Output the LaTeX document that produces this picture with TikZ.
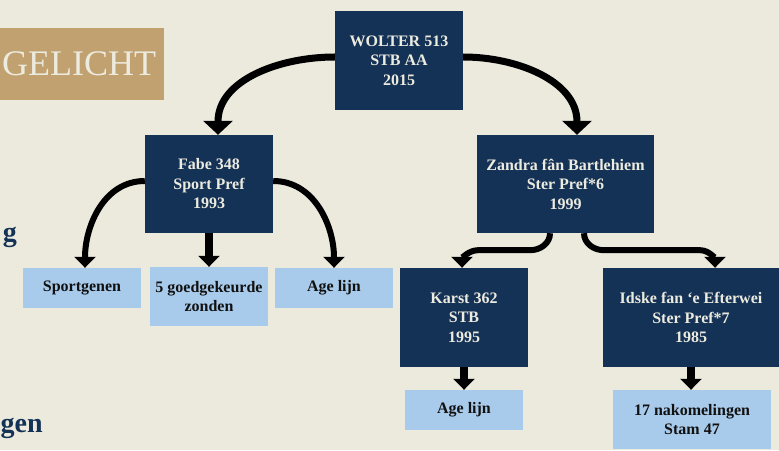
\documentclass[tikz,border=0pt]{standalone}
\usepackage{fontspec}
\setmainfont{Liberation Serif}
\usetikzlibrary{arrows.meta}
\definecolor{bgc}{HTML}{EBEADD}
\definecolor{navy}{HTML}{143156}
\definecolor{lblue}{HTML}{A9CBEB}
\definecolor{gold}{HTML}{C1A16F}
\definecolor{cream}{HTML}{ECEBDF}
\definecolor{ink}{HTML}{111111}
\tikzset{
  navybox/.style={fill=navy, text=cream, inner sep=0pt, align=center,
    font=\fontsize{16}{19.5}\selectfont\bfseries},
  lightbox/.style={fill=lblue, text=ink, inner sep=0pt, align=center,
    font=\fontsize{16}{19.5}\selectfont\bfseries},
  bigarr/.style={draw=black, line width=7pt, -{Triangle[width=29pt,length=14pt]}},
  smallarr/.style={draw=black, line width=6pt, -{Triangle[width=21pt,length=11pt]}},
  straightarr/.style={draw=black, line width=8pt, -{Triangle[width=21pt,length=11pt]}},
  sidetext/.style={text=navy, inner sep=0pt, font=\fontsize{28}{28}\selectfont\bfseries},
}
\begin{document}
\begin{tikzpicture}[x=1pt,y=1pt]
\fill[bgc] (0,0) rectangle (779,450);
\useasboundingbox (0,0) rectangle (779,450);
% title band
\fill[gold] (0,350) rectangle (164,422);
\node[text=cream, inner sep=0pt, anchor=base west, font=\fontsize{36}{36}\selectfont] (title) at (2,374) {GELICHT};
\node[sidetext, anchor=base east] (sideg) at (17,208) {g};
\node[sidetext, anchor=base west] (sidegen) at (0.5,18) {gen};
% nodes
\node[navybox, minimum width=128pt, minimum height=99pt] (wolter) at (399,389.5) {WOLTER 513\\STB AA\\2015};
\node[navybox, minimum width=128pt, minimum height=98pt] (fabe) at (209,266) {Fabe 348\\Sport Pref\\1993};
\node[navybox, minimum width=177pt, minimum height=98pt] (zandra) at (565.5,266) {Zandra f\^an Bartlehiem\\Ster Pref*6\\1999};
\node[lightbox, minimum width=118pt, minimum height=40pt] (sport) at (82,162) {Sportgenen};
\node[lightbox, minimum width=118pt, minimum height=59pt] (goed) at (209,153.5) {5 goedgekeurde\\zonden};
\node[lightbox, minimum width=118pt, minimum height=40pt] (agel) at (334,162) {Age lijn};
\node[navybox, minimum width=128pt, minimum height=99pt] (karst) at (464,132.5) {Karst 362\\STB\\1995};
\node[navybox, minimum width=176pt, minimum height=99pt] (idske) at (691,132.5) {Idske fan ‘e Efterwei\\Ster Pref*7\\1985};
\node[lightbox, minimum width=118pt, minimum height=40pt] (ager) at (464,40) {Age lijn};
\node[lightbox, minimum width=158pt, minimum height=59pt] (nak) at (692,30.5) {17 nakomelingen\\Stam 47};
% connectors
\draw[bigarr] ([yshift=3.5pt]wolter.west) to[out=180,in=90] ([xshift=9pt]fabe.north);
\draw[bigarr] ([yshift=3.5pt]wolter.east) to[out=0,in=90] ([xshift=11.5pt]zandra.north);
\draw[smallarr] ([yshift=3pt]fabe.west) to[out=180,in=90] ([xshift=3pt]sport.north);
\draw[smallarr] ([yshift=3pt]fabe.east) to[out=0,in=90] (agel.north);
\draw[straightarr] (fabe.south) -- (goed.north);
\draw[smallarr] ([xshift=-15.5pt]zandra.south) to[out=-90,in=0] ++(-20,-17) -- ++(-52,0) to[out=180,in=90] ([xshift=-2pt]karst.north);
\draw[smallarr] ([xshift=18.5pt]zandra.south) to[out=-90,in=180] ++(20,-17) -- ++(96,0) to[out=0,in=90] ([xshift=24pt]idske.north);
\draw[straightarr] (karst.south) -- (ager.north);
\draw[straightarr] (idske.south) -- (idske.south |- nak.north);
\end{tikzpicture}
\end{document}
